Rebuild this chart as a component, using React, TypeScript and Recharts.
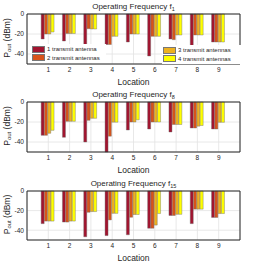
import {
  BarChart,
  Bar,
  XAxis,
  YAxis,
  CartesianGrid,
  Legend,
} from "recharts";

const locations = ["1", "2", "3", "4", "5", "6", "7", "8", "9"];

// f1
const ant1F1 = [-25, -27, -31.5, -30.5, -28, -42, -25, -32, -28];
const ant2F1 = [-20, -19.5, -14.7, -30.5, -20, -22.3, -25.7, -21, -28];
const ant3F1 = [-20, -19.5, -15, -22.3, -20, -22.3, -21, -21, -28];
const ant4F1 = [-18, -19.5, -15, -22.3, -20, -22.3, -21, -21, -28];

// f8
const ant1F8 = [-33.3, -35.3, -40, -50, -28, -27, -30, -26, -27];
const ant2F8 = [-33.3, -19.3, -18.3, -34.2, -20, -20, -22.5, -26, -27];
const ant3F8 = [-31.3, -19.3, -16.3, -20.2, -20, -20, -22.5, -24.2, -20.3];
const ant4F8 = [-28.3, -19.3, -16.3, -20.2, -17.8, -20, -22.5, -23.5, -20.3];

// f15
const ant1F15 = [-33.3, -31.7, -46.7, -45.5, -44.7, -38, -25, -33.3, -27];
const ant2F15 = [-30.7, -31.7, -21.7, -29.5, -26.8, -38, -25, -18.5, -27];
const ant3F15 = [-30.7, -30.7, -21, -22.8, -24, -34.8, -23.8, -18.5, -23];
const ant4F15 = [-30.7, -30.7, -21, -22.8, -24, -23, -23.8, -18.5, -23];

const seriesNames = [
  "1 transmit antenna",
  "2 transmit antennas",
  "3 transmit antennas",
  "4 transmit antennas",
];
const colors = ["#A2142F", "#D95319", "#EDB120", "#FFFF00"];
const yTicks = [-40, -20, 0];

const FONT = "'Liberation Sans', Arial, sans-serif";
const INK = "#262626";

const makeData = (s: number[][]) =>
  locations.map((loc, i) => ({
    loc,
    a1: s[0][i],
    a2: s[1][i],
    a3: s[2][i],
    a4: s[3][i],
  }));

const panels = [
  { sub: "1", data: makeData([ant1F1, ant2F1, ant3F1, ant4F1]), top: 0, mt: 13, legend: true },
  { sub: "8", data: makeData([ant1F8, ant2F8, ant3F8, ant4F8]), top: 88, mt: 13, legend: false },
  { sub: "15", data: makeData([ant1F15, ant2F15, ant3F15, ant4F15]), top: 176, mt: 14, legend: false },
];

// @ts-ignore
const renderLegend = (props) => {
  const { payload } = props;
  const items = payload || [];
  const box = (list: any[], left: number, top: number, w: number) => (
    <div
      style={{
        position: "absolute",
        left,
        top,
        width: w,
        background: "#fff",
        padding: "1px 1px",
      }}
    >
      {list.map((p: any) => (
        <div
          key={p.value}
          style={{ display: "flex", alignItems: "center", height: 8.5 }}
        >
          <span
            style={{
              display: "inline-block",
              width: 13,
              height: 7,
              background: p.color,
              border: "0.5px solid #777",
              boxSizing: "border-box",
              marginRight: 2,
            }}
          />
          <span style={{ fontSize: 6, color: INK, fontFamily: FONT, whiteSpace: "nowrap" }}>
            {p.value}
          </span>
        </div>
      ))}
    </div>
  );
  return (
    <div style={{ position: "relative", width: 268, height: 88 }}>
      {box(items.slice(0, 2), 31, 44, 73)}
      {box(items.slice(2, 4), 162, 45, 77)}
    </div>
  );
};

function Panel({ sub, data, top, mt, legend }: any) {
  return (
    <div style={{ position: "absolute", left: 0, top }}>
      <BarChart
        width={268}
        height={88}
        data={data}
        margin={{ top: mt, right: 27, bottom: 0, left: 0 }}
        barCategoryGap={3.5}
        barGap={0.3}
      >
        <CartesianGrid stroke="#e2e2e2" strokeWidth={0.8} />
        <XAxis
          dataKey="loc"
          padding={{ left: 10.65, right: 10.65 }}
          height={24}
          interval={0}
          tickLine={false}
          tickSize={2}
          tickMargin={1}
          stroke={INK}
          tick={{ fontSize: 6.5, fill: INK, fontFamily: FONT }}
          label={(p: any) => {
            const vb = p.viewBox;
            return (
              <text
                x={vb.x + vb.width / 2}
                y={vb.y + 18}
                textAnchor="middle"
                dominantBaseline="central"
                fontSize={8.5}
                fill={INK}
                fontFamily={FONT}
              >
                Location
              </text>
            );
          }}
        />
        <XAxis
          xAxisId="top"
          dataKey="loc"
          orientation="top"
          height={1}
          tick={false}
          tickLine={false}
          stroke={INK}
          padding={{ left: 10.65, right: 10.65 }}
          label={(p: any) => {
            const vb = p.viewBox;
            return (
              <text
                x={vb.x + vb.width / 2}
                y={vb.y + vb.height - 5.5}
                textAnchor="middle"
                fontSize={8}
                fill={INK}
                fontFamily={FONT}
              >
                Operating Frequency f
                <tspan fontSize={5.5} dy={2}>
                  {sub}
                </tspan>
              </text>
            );
          }}
        />
        <YAxis
          type="number"
          domain={[-50, 0]}
          ticks={yTicks}
          interval={0}
          width={27}
          tickLine={false}
          tickSize={2}
          tickMargin={1}
          stroke={INK}
          tick={{ fontSize: 6.5, fill: INK, fontFamily: FONT }}
          label={(p: any) => {
            const vb = p.viewBox;
            const cx = 7;
            const cy = vb.y + vb.height / 2 - 1;
            return (
              <text
                x={cx}
                y={cy}
                transform={`rotate(-90 ${cx} ${cy})`}
                textAnchor="middle"
                dominantBaseline="central"
                fontSize={8.5}
                fill={INK}
                fontFamily={FONT}
              >
                P
                <tspan fontSize={6} dy={2}>
                  out
                </tspan>
                <tspan dy={-2}> (dBm)</tspan>
              </text>
            );
          }}
        />
        <YAxis
          yAxisId="right"
          orientation="right"
          type="number"
          domain={[-50, 0]}
          width={1}
          tick={false}
          tickLine={false}
          stroke={INK}
        />
        {legend && (
          <Legend
            layout="horizontal"
            verticalAlign="middle"
            align="center"
            content={renderLegend}
            wrapperStyle={{ position: "absolute", left: 0, top: 0, width: 268, height: 88 }}
          />
        )}
        {["a1", "a2", "a3", "a4"].map((k, i) => (
          <Bar
            key={k}
            dataKey={k}
            name={seriesNames[i]}
            fill={colors[i]}
            stroke="#6a6a6a"
            strokeWidth={0.4}
            isAnimationActive={false}
          />
        ))}
      </BarChart>
    </div>
  );
}

export default function App() {
  return (
    <div
      style={{
        position: "absolute",
        left: 0,
        top: 0,
        width: 268,
        height: 264,
        background: "#fff",
      }}
    >
      {panels.map((p) => (
        <Panel key={p.sub} {...p} />
      ))}
    </div>
  );
}
